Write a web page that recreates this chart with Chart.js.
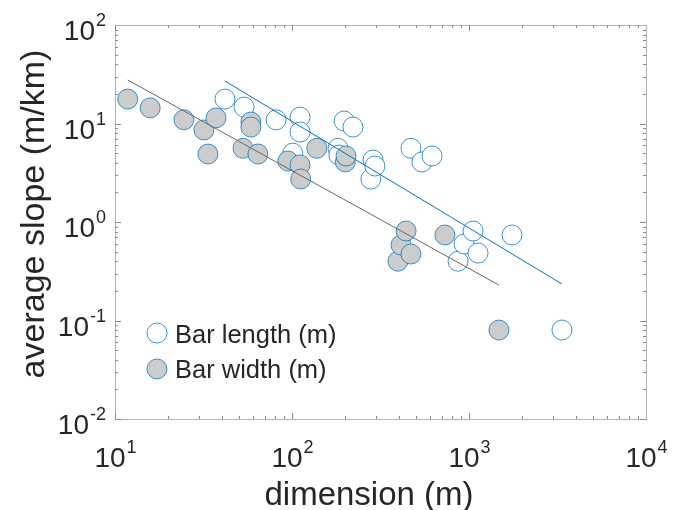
<!DOCTYPE html>
<html>
<head>
<meta charset="utf-8">
<script src="https://cdn.jsdelivr.net/npm/chart.js@4"></script>
<style>
  body { margin: 0; background: #fff; }
  #wrap { width: 673px; height: 510px; }
</style>
</head>
<body>
<div id="wrap"><canvas id="slopes" width="673" height="510"></canvas></div>
<script>
// bar length (open circles)
var lengthX = [41.8, 53.6, 81.3, 101, 111, 111, 182, 184, 197, 221, 279, 287, 294, 470, 542, 618, 867, 938, 1054, 1125, 1750, 3350];
var lengthY = [17.7, 14.7, 10.9, 5.0, 11.6, 8.2, 5.6, 4.79, 10.6, 9.2, 2.73, 4.26, 3.7, 5.6, 4.07, 4.68, 0.40, 0.598, 0.81, 0.484, 0.738, 0.080];
// bar width (grey circles)
var widthX = [11.8, 15.8, 24.5, 31.8, 33.5, 37.2, 52.9, 58.6, 58.6, 64.2, 94.8, 111, 112, 138, 200, 202, 397, 413, 441, 470, 731, 1476];
var widthY = [17.7, 14.4, 10.9, 8.6, 4.9, 11.4, 5.6, 10.35, 9.2, 4.9, 4.16, 3.8, 2.73, 5.6, 4.07, 4.68, 0.40, 0.584, 0.81, 0.473, 0.738, 0.080];
// power-law fits, end points
var fitLengthX = [41.8, 3350];
var fitLengthY = [27.0, 0.235];
var fitWidthX = [11.8, 1476];
var fitWidthY = [27.7, 0.229];

var xDecades = [1, 2, 3, 4];
var yDecades = [-2, -1, 0, 1, 2];

function pts(xs, ys) {
    return xs.map(function (x, i) { return {x: x, y: ys[i]}; });
}

var blue = '#0072BD';
var edge = 'rgba(0,114,189,0.75)';
var txt = '#262626';
var fam = '"Liberation Sans", Arial, sans-serif';

function drawPow(ctx, e, x, y, align) {
    ctx.font = '28px ' + fam;
    var w1 = ctx.measureText('10').width;
    ctx.font = '18px ' + fam;
    var es = e < 0 ? '-' + (-e) : String(e);
    var w2 = ctx.measureText(es).width;
    var start = align === 'center' ? x - (w1 + w2) / 2 : x - (w1 + w2);
    ctx.textAlign = 'left';
    ctx.textBaseline = 'alphabetic';
    ctx.font = '28px ' + fam;
    ctx.fillText('10', start, y);
    ctx.font = '18px ' + fam;
    ctx.fillText(es, start + w1 + 1, y - 14);
}

var axesPlugin = {
    id: 'matlabAxes',
    afterDatasetsDraw: function (chart) {
        var ctx = chart.ctx, a = chart.chartArea;
        var sx = chart.scales.x, sy = chart.scales.y;
        ctx.save();
        ctx.strokeStyle = '#b4b4b4';
        ctx.lineWidth = 1;
        ctx.strokeRect(a.left + 0.5, a.top + 0.5, a.right - a.left, a.bottom - a.top);
        ctx.strokeStyle = '#8a8a8a';
        ctx.beginPath();
        // x ticks, inside, top and bottom
        for (var d = 1; d < 4; d++) {
            for (var k = 1; k <= 9; k++) {
                var px = Math.round(sx.getPixelForValue(k * Math.pow(10, d))) + 0.5;
                var len = k === 1 ? 6 : 3;
                ctx.moveTo(px, a.bottom); ctx.lineTo(px, a.bottom - len);
                ctx.moveTo(px, a.top); ctx.lineTo(px, a.top + len);
            }
        }
        // y ticks, inside, left and right
        for (var d2 = -2; d2 < 2; d2++) {
            for (var k2 = 1; k2 <= 9; k2++) {
                var py = Math.round(sy.getPixelForValue(k2 * Math.pow(10, d2))) + 0.5;
                var l2 = k2 === 1 ? 6 : 3;
                ctx.moveTo(a.left, py); ctx.lineTo(a.left + l2, py);
                ctx.moveTo(a.right, py); ctx.lineTo(a.right - l2, py);
            }
        }
        ctx.stroke();

        ctx.fillStyle = txt;
        xDecades.forEach(function (e) {
            drawPow(ctx, e, sx.getPixelForValue(Math.pow(10, e)), a.bottom + 48, 'center');
        });
        yDecades.forEach(function (e) {
            drawPow(ctx, e, 105, sy.getPixelForValue(Math.pow(10, e)) + 15, 'right');
        });

        // axis titles
        ctx.font = '33px ' + fam;
        ctx.textAlign = 'center';
        ctx.textBaseline = 'alphabetic';
        ctx.fillText('dimension (m)', 369, 505);
        ctx.save();
        ctx.font = '34px ' + fam;
        ctx.translate(44, 214);
        ctx.rotate(-Math.PI / 2);
        ctx.fillText('average slope (m/km)', 0, 0);
        ctx.restore();

        // legend
        ctx.lineWidth = 1;
        ctx.strokeStyle = edge;
        ctx.beginPath(); ctx.arc(157, 333, 10, 0, 2 * Math.PI);
        ctx.fillStyle = '#ffffff'; ctx.fill(); ctx.stroke();
        ctx.beginPath(); ctx.arc(157, 369, 10, 0, 2 * Math.PI);
        ctx.fillStyle = '#cccccc'; ctx.fill(); ctx.stroke();
        ctx.fillStyle = txt;
        ctx.font = '25.5px ' + fam;
        ctx.textAlign = 'left';
        ctx.fillText('Bar length (m)', 175, 343);
        ctx.fillText('Bar width (m)', 175, 378);
        ctx.restore();
    }
};

var ctx = document.getElementById('slopes').getContext('2d');

var chart = new Chart(ctx, {
    type: 'scatter',
    data: {
        datasets: [{
            label: 'fit length',
            data: pts(fitLengthX, fitLengthY),
            showLine: true,
            borderColor: blue,
            borderWidth: 1,
            pointRadius: 0
        }, {
            label: 'fit width',
            data: pts(fitWidthX, fitWidthY),
            showLine: true,
            borderColor: '#666666',
            borderWidth: 1,
            pointRadius: 0
        }, {
            label: 'Bar width (m)',
            data: pts(widthX, widthY),
            pointRadius: 10,
            pointHoverRadius: 10,
            backgroundColor: '#cccccc',
            borderColor: edge,
            borderWidth: 1
        }, {
            label: 'Bar length (m)',
            data: pts(lengthX, lengthY),
            pointRadius: 10,
            pointHoverRadius: 10,
            backgroundColor: '#ffffff',
            borderColor: edge,
            borderWidth: 1
        }]
    },
    options: {
        responsive: false,
        animation: false,
        events: [],
        layout: { padding: { left: 115, right: 27, top: 25, bottom: 91 } },
        plugins: {
            legend: { display: false },
            tooltip: { enabled: false }
        },
        scales: {
            x: { type: 'logarithmic', min: 10, max: 10000, display: false },
            y: { type: 'logarithmic', min: 0.01, max: 100, display: false }
        }
    },
    plugins: [axesPlugin]
});
</script>
</body>
</html>
